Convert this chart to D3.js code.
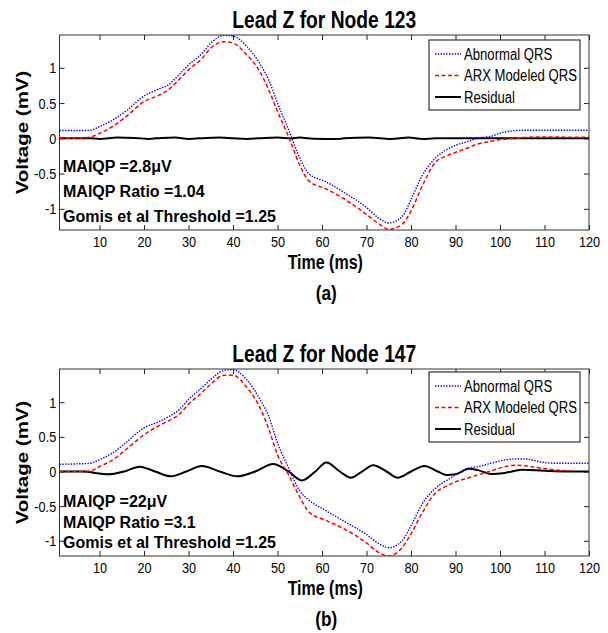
<!DOCTYPE html>
<html>
<head>
<meta charset="utf-8">
<script src="https://cdn.jsdelivr.net/npm/d3@7"></script>
<style>
  body { margin: 0; background: #fff; }
  svg { display: block; }
</style>
</head>
<body>
<div id="chart"></div>
<script>
// time grid (ms) shared by the abnormal and ARX curves
const timeQRS = [1, 5, 8, 10, 13, 16, 20, 23, 25.5, 28, 30, 33, 35, 38, 40, 43, 46, 48, 50, 52.5,
                 55, 57, 61, 65, 70, 72.5, 75, 78, 80, 82.5, 85.5, 88, 90, 93, 95, 98, 100.5,
                 103.5, 106, 109, 112, 116, 120];

// panel (a) Node 123
const abnormalA = [0.11, 0.11, 0.115, 0.165, 0.26, 0.39, 0.60, 0.69, 0.76, 0.91, 1.04, 1.2, 1.35, 1.46, 1.45, 1.31, 1.06, 0.83, 0.5, 0.12,
                   -0.28, -0.5, -0.62, -0.77, -0.98, -1.12, -1.2, -1.11, -0.87, -0.53, -0.28, -0.16, -0.1, -0.04, 0, 0.03, 0.08,
                   0.11, 0.115, 0.115, 0.115, 0.115, 0.115];
const arxA = [0, 0, 0.02, 0.07, 0.17, 0.31, 0.52, 0.6, 0.69, 0.84, 0.97, 1.13, 1.28, 1.37, 1.35, 1.19, 0.95, 0.69, 0.38, 0.02,
              -0.38, -0.6, -0.72, -0.86, -1.08, -1.2, -1.29, -1.22, -1.03, -0.68, -0.34, -0.25, -0.2, -0.13, -0.08, -0.04, -0.015,
              0, 0.015, 0.02, 0.02, 0.015, 0.015];
const timeResA = [1, 8, 10, 14, 18, 21, 24, 27, 30, 34, 37, 40, 43, 47, 50, 53, 55, 58, 63, 65, 70.5, 75.5, 79.5, 82.5, 85.5, 120];
const residualA = [0, 0, -0.008, 0.01, 0.006, -0.008, 0.006, 0.01, -0.008, 0.006, 0.01, 0, -0.008, 0.006, 0.01, 0, 0.01, -0.005,
                   -0.01, 0, 0.012, -0.008, 0.01, -0.01, 0, 0];

// panel (b) Node 147
const abnormalB = [0.105, 0.11, 0.12, 0.17, 0.27, 0.42, 0.63, 0.71, 0.79, 0.9, 1.04, 1.21, 1.33, 1.46, 1.47, 1.33, 1.05, 0.8, 0.41, 0.05,
                   -0.28, -0.41, -0.57, -0.72, -0.91, -1.03, -1.1, -1.0, -0.78, -0.47, -0.24, -0.13, -0.05, 0.05, 0.07, 0.12, 0.16,
                   0.18, 0.18, 0.14, 0.12, 0.12, 0.12];
const arxB = [0, 0, 0.01, 0.07, 0.17, 0.32, 0.53, 0.65, 0.73, 0.83, 0.97, 1.14, 1.26, 1.39, 1.39, 1.22, 0.93, 0.62, 0.24, -0.05,
              -0.37, -0.58, -0.71, -0.83, -1.03, -1.16, -1.22, -1.1, -0.9, -0.6, -0.31, -0.21, -0.15, -0.09, -0.05, 0.01, 0.06,
              0.09, 0.08, 0.05, 0.025, 0.01, null];
const timeResB = [1, 6, 12, 15.5, 19, 22.5, 26, 29.5, 33, 37, 41, 45, 49, 52.5, 55.5, 58.5, 61, 64, 66.5, 69, 71.5, 74.5,
                  77, 80, 83, 86, 88, 90, 93, 95, 98, 101, 105, 110, 115, 120];
const residualB = [0, 0, -0.04, 0, 0.07, 0, -0.07, 0, 0.08, 0, -0.07, 0, 0.11, 0, -0.13, 0, 0.13, 0, -0.09, 0, 0.09, 0,
                   -0.09, 0, 0.08, 0, -0.05, -0.04, 0.04, 0.02, -0.035, -0.02, 0.025, 0.01, 0, 0];

const xTicks = [10, 20, 30, 40, 50, 60, 70, 80, 90, 100, 110, 120];
const yTicks = [-1, -0.5, 0, 0.5, 1];
const legendNames = ["Abnormal QRS", "ARX Modeled QRS", "Residual"];

const font = "'Liberation Sans', Arial, sans-serif";
const squeeze = 0.82;   // the figure looks horizontally squashed

const width = 608, height = 633;

const svg = d3.select("#chart").append("svg")
    .attr("width", width)
    .attr("height", height);

// text squashed horizontally around its anchor point
function narrowText(sel, x, y, str, size, opts) {
  opts = opts || {};
  return sel.append("text")
      .attr("transform", "translate(" + x + "," + y + ") scale(" + squeeze + ",1)")
      .attr("text-anchor", opts.anchor || "start")
      .attr("dy", opts.dy || null)
      .attr("font-family", font)
      .attr("font-weight", opts.bold ? "bold" : null)
      .attr("font-size", size)
      .attr("fill", "#000")
      .text(str);
}

const panels = [
  { id: "a", title: "Lead Z for Node 123", label: "(a)",
    abnormal: abnormalA, arx: arxA, tRes: timeResA, residual: residualA,
    top: 35, bottom: 230, ymin: -1.30, ymax: 1.465,
    titleY: 28, xlabelY: 269, subY: 300, legendTop: 40,
    notes: ["MAIQP =2.8\u03bcV", "MAIQP Ratio =1.04", "Gomis et al Threshold =1.25"],
    noteY: [172, 197, 222] },
  { id: "b", title: "Lead Z for Node 147", label: "(b)",
    abnormal: abnormalB, arx: arxB, tRes: timeResB, residual: residualB,
    top: 369, bottom: 556, ymin: -1.22, ymax: 1.48,
    titleY: 362, xlabelY: 595, subY: 626, legendTop: 372,
    notes: ["MAIQP =22\u03bcV", "MAIQP Ratio =3.1", "Gomis et al Threshold =1.25"],
    noteY: [507, 528, 548] }
];

const left = 59.5, right = 589;

panels.forEach(function(p) {
  const x = d3.scaleLinear().domain([1, 120]).range([left, right]);
  const y = d3.scaleLinear().domain([p.ymin, p.ymax]).range([p.bottom, p.top]);
  const g = svg.append("g");

  g.append("clipPath").attr("id", "clip-" + p.id)
    .append("rect")
    .attr("x", left).attr("y", p.top)
    .attr("width", right - left).attr("height", p.bottom - p.top);

  // axes, MATLAB style ticks pointing inward
  const xAx = g.append("g")
      .attr("transform", "translate(0," + p.bottom + ")")
      .call(d3.axisBottom(x).tickValues(xTicks).tickSizeInner(-5).tickSizeOuter(0).tickPadding(6.5));
  g.append("g")
      .attr("transform", "translate(0," + p.top + ")")
      .call(d3.axisTop(x).tickValues(xTicks).tickSizeInner(-5).tickSizeOuter(0).tickFormat(""));
  const yAx = g.append("g")
      .attr("transform", "translate(" + left + ",0)")
      .call(d3.axisLeft(y).tickValues(yTicks).tickSizeInner(-5).tickSizeOuter(0).tickPadding(4)
            .tickFormat(function(d) { return String(d); }));
  g.append("g")
      .attr("transform", "translate(" + right + ",0)")
      .call(d3.axisRight(y).tickValues(yTicks).tickSizeInner(-5).tickSizeOuter(0).tickFormat(""));

  g.selectAll(".domain").remove();
  g.selectAll(".tick line").attr("stroke", "#222");
  [xAx, yAx].forEach(function(a) {
    a.selectAll("text")
      .attr("transform", "scale(" + squeeze + ",1)")
      .attr("font-family", font)
      .attr("font-size", 15.5)
      .attr("fill", "#000");
  });

  // data lines
  const plot = g.append("g").attr("clip-path", "url(#clip-" + p.id + ")");
  const line = d3.line()
      .defined(function(d) { return d[1] != null; })
      .x(function(d) { return x(d[0]); })
      .y(function(d) { return y(d[1]); })
      .curve(d3.curveMonotoneX);

  plot.append("path")
      .datum(d3.zip(p.tRes, p.residual))
      .attr("d", line)
      .attr("fill", "none")
      .attr("stroke", "#000")
      .attr("stroke-width", 2);

  plot.append("path")
      .datum(d3.zip(timeQRS, p.arx))
      .attr("d", line)
      .attr("fill", "none")
      .attr("stroke", "#ff0000")
      .attr("stroke-width", 1.5)
      .attr("stroke-dasharray", "4,2.5");

  plot.append("path")
      .datum(d3.zip(timeQRS, p.abnormal))
      .attr("d", line)
      .attr("fill", "none")
      .attr("stroke", "#0000ff")
      .attr("stroke-width", 1.4)
      .attr("stroke-dasharray", "1.4,1.4");

  // frame
  g.append("rect")
      .attr("x", left).attr("y", p.top)
      .attr("width", right - left).attr("height", p.bottom - p.top)
      .attr("fill", "none")
      .attr("stroke", "#333")
      .attr("stroke-width", 1);

  // legend
  const lg = g.append("g").attr("transform", "translate(429," + p.legendTop + ")");
  lg.append("rect")
      .attr("width", 151).attr("height", 70)
      .attr("fill", "#fff")
      .attr("stroke", "#333")
      .attr("stroke-width", 1.2);
  const styles = [
    { c: "#0000ff", w: 1.4, dash: "1.4,1.4" },
    { c: "#ff0000", w: 1.5, dash: "4,2.5" },
    { c: "#000", w: 2, dash: null }
  ];
  legendNames.forEach(function(name, i) {
    const yy = 14 + i * 21.5;
    lg.append("line")
        .attr("x1", 6).attr("x2", 32)
        .attr("y1", yy).attr("y2", yy)
        .attr("stroke", styles[i].c)
        .attr("stroke-width", styles[i].w)
        .attr("stroke-dasharray", styles[i].dash);
    narrowText(lg, 35, yy, name, 16, { dy: "0.36em" });
  });

  // annotations
  p.notes.forEach(function(t, i) {
    g.append("text")
        .attr("x", 63).attr("y", p.noteY[i])
        .attr("font-family", font)
        .attr("font-weight", "bold")
        .attr("font-size", 16)
        .text(t);
  });

  // titles and labels
  const cx = (left + right) / 2;
  narrowText(g, cx, p.titleY, p.title, 23.5, { anchor: "middle", bold: true });
  narrowText(g, cx + 1, p.xlabelY, "Time (ms)", 19.5, { anchor: "middle", bold: true });
  narrowText(g, cx + 2, p.subY, p.label, 21, { anchor: "middle", bold: true });

  g.append("text")
      .attr("transform", "translate(28," + ((p.top + p.bottom) / 2) + ") scale(" + squeeze + ",1) rotate(-90)")
      .attr("text-anchor", "middle")
      .attr("font-family", font)
      .attr("font-weight", "bold")
      .attr("font-size", 20.5)
      .text("Voltage (mV)");
});
</script>
</body>
</html>
